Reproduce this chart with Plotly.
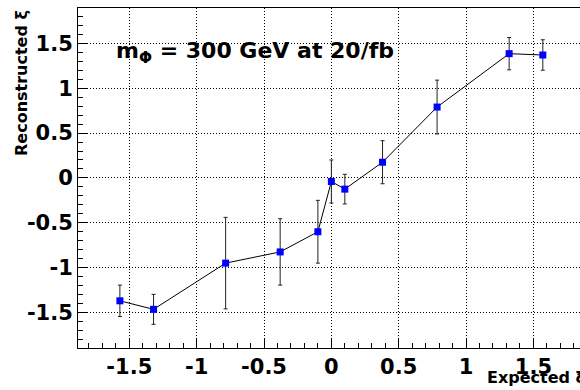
import plotly.graph_objects as go

xi_expected = [-1.57, -1.32, -0.785, -0.38, -0.10, 0.0, 0.10, 0.38, 0.785, 1.32, 1.57]
xi_reco = [-1.37, -1.465, -0.95, -0.825, -0.60, -0.04, -0.125, 0.175, 0.79, 1.385, 1.37]
xi_err = [0.175, 0.167, 0.51, 0.37, 0.35, 0.24, 0.165, 0.24, 0.30, 0.18, 0.17]

tick_vals = [-1.5, -1.0, -0.5, 0.0, 0.5, 1.0, 1.5]
tick_text = ["-1.5", "-1", "-0.5", "0", "0.5", "1", "1.5"]

FONT = "DejaVu Sans"

fig = go.Figure()
fig.add_trace(go.Scatter(
    x=xi_expected, y=xi_reco,
    mode="lines+markers",
    line=dict(color="black", width=1),
    marker=dict(symbol="square", size=7, color="#0000ff", line=dict(width=0)),
    error_y=dict(type="data", array=xi_err, visible=True, color="#222222",
                 thickness=1, width=2),
    showlegend=False,
))

W, H = 580, 390
ml, mt, mb, mr = 78, 8, 42, 0

axis_common = dict(
    showline=True, linecolor="black", linewidth=1,
    ticks="inside", tickcolor="black", tickwidth=1,
    tickmode="array", tickvals=tick_vals, ticktext=tick_text,
    tickfont=dict(family=FONT, size=21, color="black", weight="bold"),
    showgrid=True, gridcolor="black", gridwidth=1, griddash="1px,2px",
    zeroline=False,
    minor=dict(ticks="inside", tickmode="linear", tick0=0, dtick=0.1,
               ticklen=5, tickcolor="black", tickwidth=1, showgrid=False),
)

fig.update_xaxes(range=[-1.881, 1.846], ticklen=9, mirror=True, **axis_common)
fig.update_yaxes(range=[-1.896, 1.894], ticklen=10, mirror=False, **axis_common)

pw = W - ml - mr
ph = H - mt - mb

def px_x(p):
    return (p - ml) / pw

def px_y(p):
    return (H - mb - p) / ph

fig.add_annotation(
    xref="paper", yref="paper", x=px_x(114), y=px_y(53),
    xanchor="left", yanchor="middle", showarrow=False,
    text="<b>m<sub>Φ</sub> = 300 GeV at 20/fb</b>",
    font=dict(family=FONT, size=22, color="black"),
)
fig.add_annotation(
    xref="paper", yref="paper", x=px_x(485), y=px_y(377),
    xanchor="left", yanchor="middle", showarrow=False,
    text="<b>Expected ξ</b>",
    font=dict(family=FONT, size=16, color="black"),
)
fig.add_annotation(
    xref="paper", yref="paper", x=px_x(21), y=px_y(83),
    xanchor="center", yanchor="middle", showarrow=False, textangle=-90,
    text="<b>Reconstructed ξ</b>",
    font=dict(family=FONT, size=16, color="black"),
)

fig.update_layout(
    width=W, height=H,
    margin=dict(l=ml, r=mr, t=mt, b=mb, pad=0),
    paper_bgcolor="white", plot_bgcolor="white",
    font=dict(family=FONT, color="black"),
)

fig.write_html("out.html")
